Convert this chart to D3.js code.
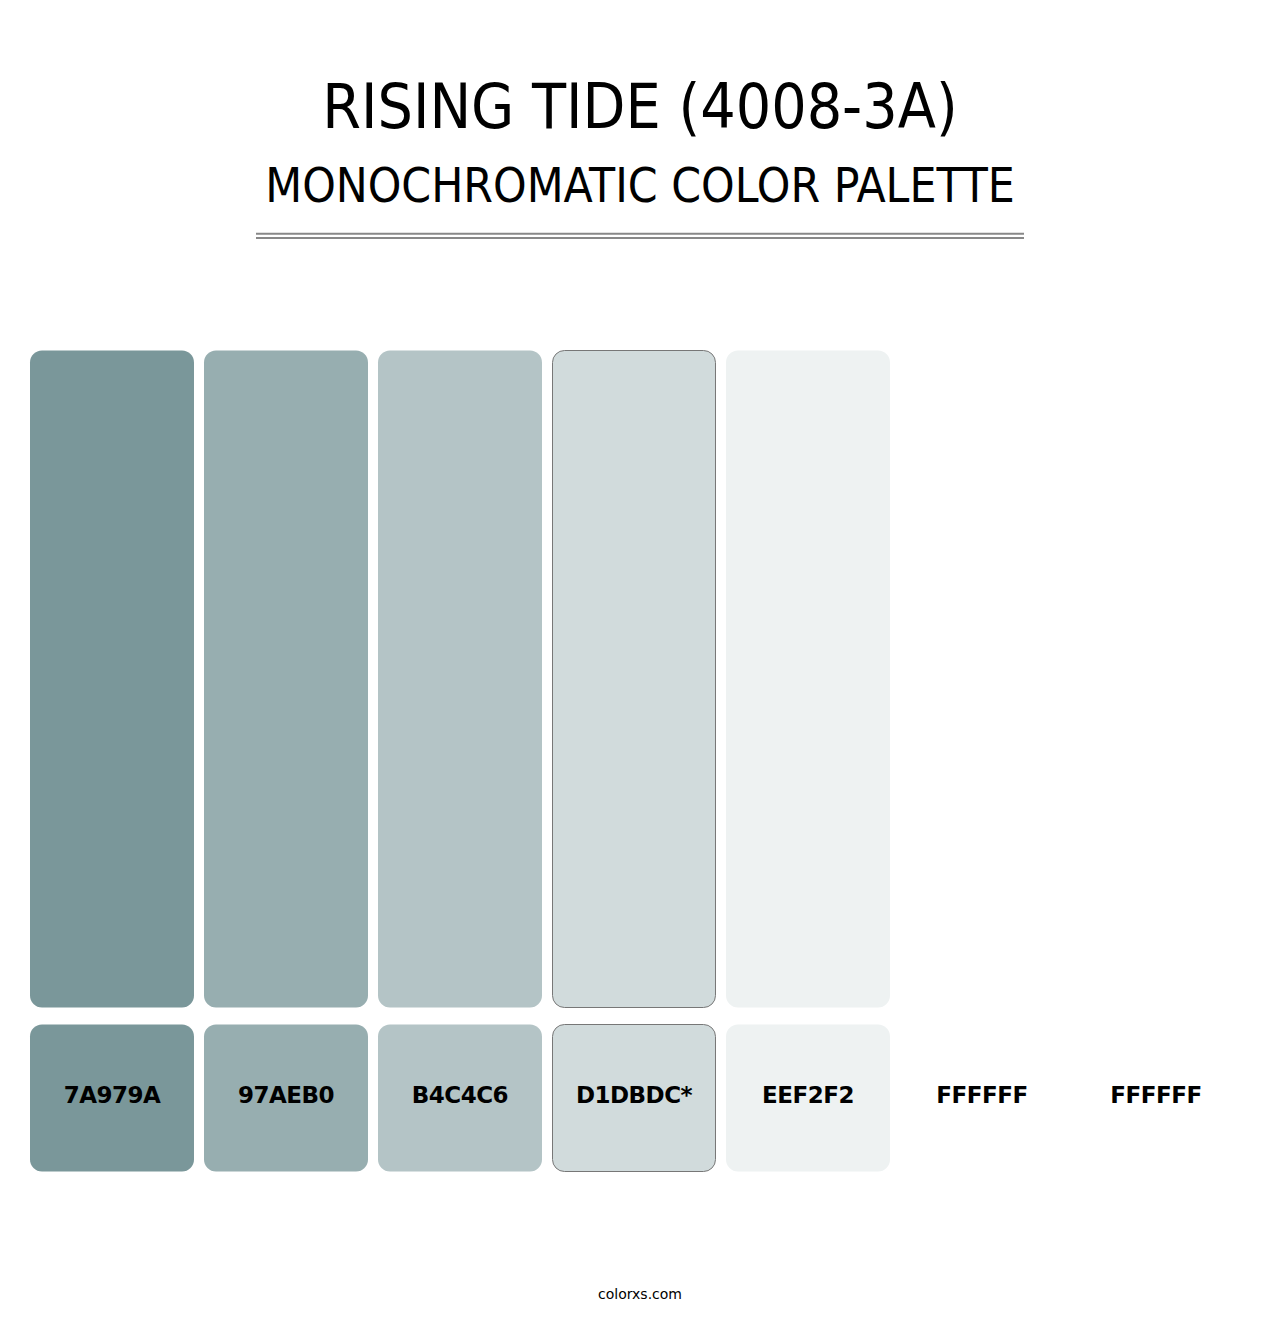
<!DOCTYPE html>
<html>
<head>
<meta charset="utf-8">
<script src="https://cdn.jsdelivr.net/npm/d3@7"></script>
<style>
  body { margin: 0; background: #fff; }
</style>
</head>
<body>
<div id="chart"></div>
<script>
// palette data
let codes = ["7A979A", "97AEB0", "B4C4C6", "D1DBDC*", "EEF2F2", "FFFFFF", "FFFFFF"];
let fills = ["#7A979A", "#97AEB0", "#B4C4C6", "#D1DBDC", "#EEF2F2", "#FFFFFF", "#FFFFFF"];
let bigCount = 5; // tall swatches shown for the first five colors
let outlined = [3]; // index of the base color, drawn with a border

let width = 1280, height = 1320;

let svg = d3.select("#chart")
    .append("svg")
        .attr("width", width)
        .attr("height", height);

// titles
svg.append("text")
    .attr("x", 640)
    .attr("y", 128)
    .attr("text-anchor", "middle")
    .style("font-family", "'DejaVu Sans Condensed', 'DejaVu Sans'")
    .style("font-stretch", "condensed")
    .style("font-size", "62px")
    .text("RISING TIDE (4008-3A)");

svg.append("text")
    .attr("x", 640)
    .attr("y", 202)
    .attr("text-anchor", "middle")
    .style("font-family", "'DejaVu Sans Condensed', 'DejaVu Sans'")
    .style("font-stretch", "condensed")
    .style("font-size", "47.5px")
    .text("MONOCHROMATIC COLOR PALETTE");

// double rule under the titles
[233.7, 238].forEach(function(y) {
    svg.append("line")
        .attr("x1", 256).attr("x2", 1024)
        .attr("y1", y).attr("y2", y)
        .style("stroke", "#888")
        .style("stroke-width", 2);
});

// columns
let x = d3.scaleBand()
    .domain(d3.range(codes.length))
    .range([30, 1238])
    .paddingInner(0.0575)
    .paddingOuter(0);

// tall swatches
svg.append("g")
    .selectAll("rect")
    .data(d3.range(bigCount))
    .enter()
    .append("rect")
        .attr("x", function(i) { return x(i) + (outlined.includes(i) ? 0.5 : 0); })
        .attr("y", 350.5)
        .attr("width", function(i) { return x.bandwidth() - (outlined.includes(i) ? 1 : 0); })
        .attr("height", 657)
        .attr("rx", 12)
        .style("fill", function(i) { return fills[i]; })
        .style("stroke", function(i) { return outlined.includes(i) ? "#777" : "none"; });

// small swatches with codes
let chips = svg.append("g")
    .selectAll("g")
    .data(d3.range(codes.length))
    .enter()
    .append("g");

chips.append("rect")
    .attr("x", function(i) { return x(i) + (outlined.includes(i) ? 0.5 : 0); })
    .attr("y", 1024.5)
    .attr("width", function(i) { return x.bandwidth() - (outlined.includes(i) ? 1 : 0); })
    .attr("height", 147)
    .attr("rx", 12)
    .style("fill", function(i) { return fills[i]; })
    .style("stroke", function(i) { return outlined.includes(i) ? "#777" : "none"; });

chips.append("text")
    .attr("x", function(i) { return x(i) + x.bandwidth() / 2; })
    .attr("y", 1103)
    .attr("text-anchor", "middle")
    .style("font-family", "'DejaVu Sans'")
    .style("font-weight", "bold")
    .style("font-size", "23px")
    .style("letter-spacing", "-0.5px")
    .text(function(i) { return codes[i]; });

// footer
svg.append("text")
    .attr("x", 640)
    .attr("y", 1299)
    .attr("text-anchor", "middle")
    .style("font-family", "'DejaVu Sans'")
    .style("font-size", "14px")
    .text("colorxs.com");
</script>
</body>
</html>
